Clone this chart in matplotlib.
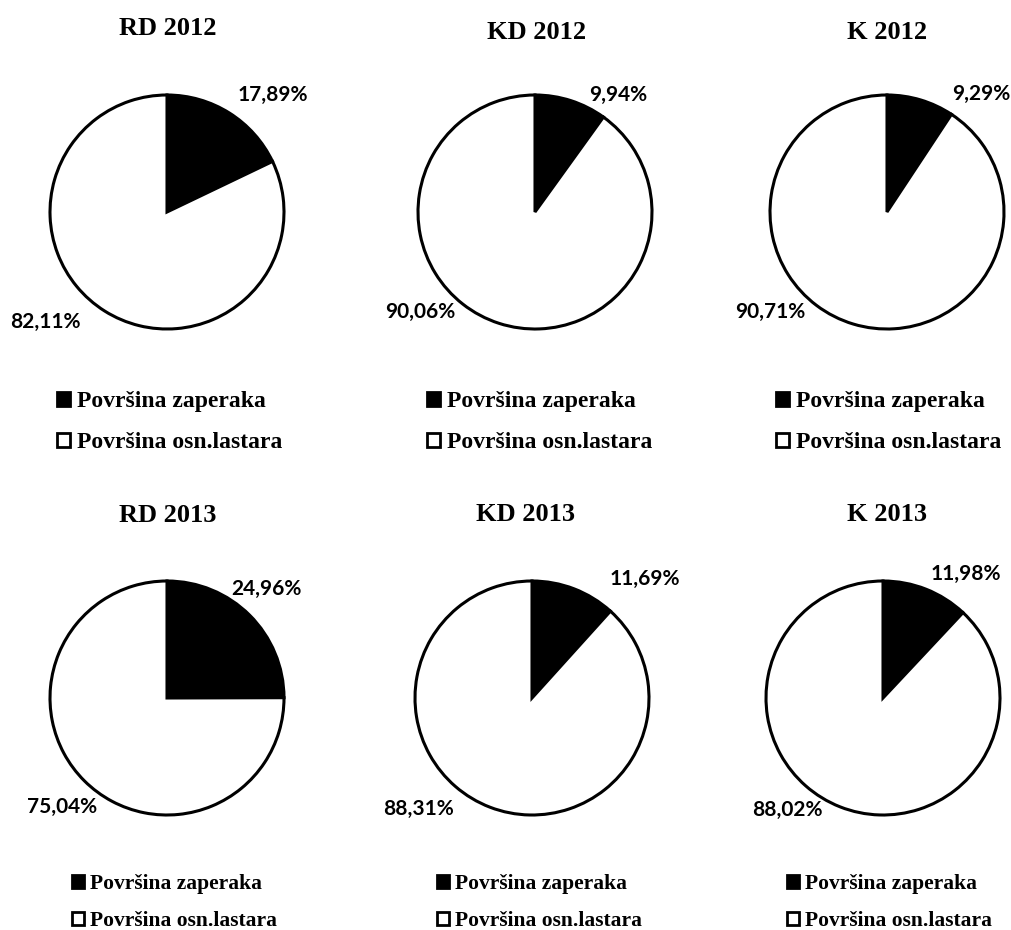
import matplotlib
matplotlib.use("Agg")
import matplotlib.pyplot as plt
from matplotlib.patches import Patch

titles = ["RD 2012", "KD 2012", "K 2012", "RD 2013", "KD 2013", "K 2013"]
zaperci = [17.89, 9.94, 9.29, 24.96, 11.69, 11.98]
osn_lastari = [82.11, 90.06, 90.71, 75.04, 88.31, 88.02]
legend_labels = ["Površina zaperaka", "Površina osn.lastara"]

W, H = 1012, 930
fig = plt.figure(figsize=(W / 100, H / 100), dpi=100)

def fx(px):
    return px / W

def fy(py):
    return 1 - py / H

# pie centres and radius, pixels
centres = [(167, 212), (535, 212), (887, 212), (167, 698), (532, 698), (883, 698)]
R = 117
lim = 1.3
# title centre x / baseline y
title_pos = [(168, 35), (537, 39), (887, 39), (168, 522), (525, 521), (887, 521)]
# percentage labels: centre x / baseline y
lab_small = [(273, 101), (618, 101), (981, 100), (266, 595), (645, 585), (966, 580)]
lab_large = [(45, 328), (420, 318), (770, 318), (62, 813), (419, 815), (787, 816)]
# legend anchors (left, top), font size, row spacing
leg_pos = [(57, 391), (427, 391), (776, 391), (72, 874), (437, 874), (787, 874)]
leg_size = [17, 17, 17, 15.5, 15.5, 15.5]
leg_spacing = [0.85, 0.85, 0.85, 0.78, 0.78, 0.78]

pct_font = dict(family="Lato", weight="bold", size=15)
title_font = dict(family="Liberation Serif", weight="bold", size=19)

for i in range(6):
    cx, cy = centres[i]
    half = R * lim
    ax = fig.add_axes([fx(cx - half), fy(cy + half), 2 * half / W, 2 * half / H])
    ax.pie([zaperci[i], osn_lastari[i]], colors=["black", "white"],
           startangle=90, counterclock=False,
           wedgeprops=dict(edgecolor="black", linewidth=2.2))
    ax.set_xlim(-lim, lim)
    ax.set_ylim(-lim, lim)
    ax.set_aspect("equal")
    ax.axis("off")

    sx, sy = lab_small[i]
    fig.text(fx(sx), fy(sy), f"{zaperci[i]:.2f}%".replace(".", ","),
             ha="center", va="baseline", **pct_font)
    bx, by = lab_large[i]
    fig.text(fx(bx), fy(by), f"{osn_lastari[i]:.2f}%".replace(".", ","),
             ha="center", va="baseline", **pct_font)

    tx, ty = title_pos[i]
    fig.text(fx(tx), fy(ty), titles[i], ha="center", va="baseline", **title_font)

    handles = [Patch(facecolor="black", edgecolor="black", linewidth=2),
               Patch(facecolor="white", edgecolor="black", linewidth=2)]
    lx, ly = leg_pos[i]
    fig.legend(handles, legend_labels, loc="upper left",
               bbox_to_anchor=(fx(lx), fy(ly)), bbox_transform=fig.transFigure,
               frameon=False, handlelength=0.55, handleheight=0.55, handletextpad=0.3,
               labelspacing=leg_spacing[i], borderpad=0, borderaxespad=0,
               prop=dict(family="Liberation Serif", weight="bold", size=leg_size[i]))

fig.savefig("out.png", dpi=100, facecolor="white")
